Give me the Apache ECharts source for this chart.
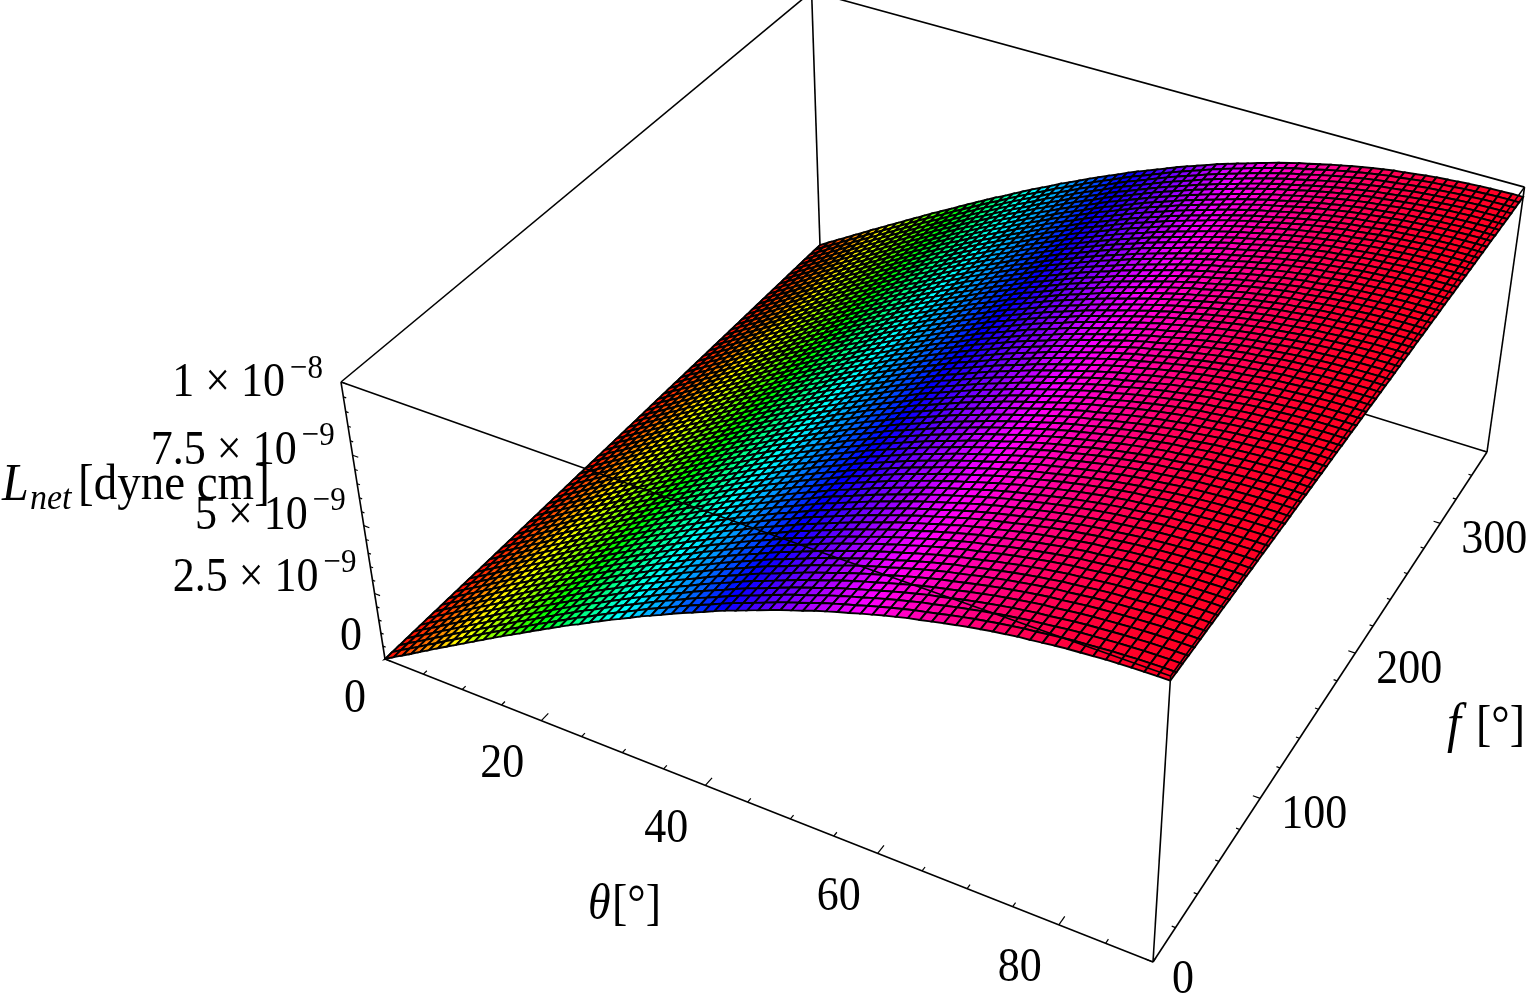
<!DOCTYPE html>
<html>
<head>
<meta charset="utf-8">
<style>html,body{margin:0;padding:0;background:#fff}#c{width:1526px;height:995px}</style>
<script src="https://cdn.jsdelivr.net/npm/echarts@6/dist/echarts.min.js"></script>
</head>
<body>
<div id="c"></div>
<script>
// ---- data ----
const thetaGrid = [0,1.25,2.5,3.75,5,6.25,7.5,8.75,10,11.25,12.5,13.75,15,16.25,17.5,18.75,20,21.25,22.5,23.75,25,26.25,27.5,28.75,30,31.25,32.5,33.75,35,36.25,37.5,38.75,40,41.25,42.5,43.75,45,46.25,47.5,48.75,50,51.25,52.5,53.75,55,56.25,57.5,58.75,60,61.25,62.5,63.75,65,66.25,67.5,68.75,70,71.25,72.5,73.75,75,76.25,77.5,78.75,80,81.25,82.5,83.75,85,86.25,87.5,88.75,90];
const phiGrid = [0,5,10,15,20,25,30,35,40,45,50,55,60,65,70,75,80,85,90,95,100,105,110,115,120,125,130,135,140,145,150,155,160,165,170,175,180,185,190,195,200,205,210,215,220,225,230,235,240,245,250,255,260,265,270,275,280,285,290,295,300,305,310,315,320,325,330,335,340,345,350,355,360];
// L_net in units of 1e-9 dyne cm along theta at phi = 0
const lnetByTheta = [0,.22,.43,.64,.86,1.07,1.29,1.50,1.71,1.92,2.13,2.34,2.55,2.76,2.96,3.16,3.37,3.57,3.77,3.97,4.17,4.35,4.55,4.74,4.93,5.11,5.29,5.48,5.65,5.82,6.00,6.17,6.33,6.49,6.66,6.82,6.96,7.11,7.26,7.41,7.55,7.68,7.81,7.95,8.07,8.19,8.30,8.42,8.53,8.64,8.74,8.84,8.92,9.01,9.10,9.18,9.26,9.33,9.40,9.46,9.52,9.56,9.61,9.66,9.70,9.73,9.76,9.79,9.81,9.83,9.84,9.85,9.85];
// slight relative fall of the surface along phi
const lnetByPhi = [1,1,1,.999,.999,.999,.999,.998,.998,.998,.997,.997,.997,.997,.996,.996,.996,.995,.995,.995,.994,.994,.994,.994,.993,.993,.993,.992,.992,.992,.992,.991,.991,.991,.990,.990,.990,.990,.989,.989,.989,.988,.988,.988,.988,.987,.987,.987,.986,.986,.986,.985,.985,.985,.985,.984,.984,.984,.983,.983,.983,.983,.982,.982,.982,.981,.981,.981,.980,.980,.980,.980,.980];
const thetaTicks = [0,5,10,15,20,25,30,35,40,45,50,55,60,65,70,75,80,85,90];
const phiTicks = [0,20,40,60,80,100,120,140,160,180,200,220,240,260,280,300,320,340,360];
const lnetTicks = [0,.5,1,1.5,2,2.5,3,3.5,4,4.5,5,5.5,6,6.5,7,7.5,8,8.5,9,9.5,10];
const thetaMajor = [0,20,40,60,80];
const phiMajor = [0,100,200,300];
const lnetMajor = [0,2.5,5,7.5,10];
const lnetTickText = {0:['0',''],2.5:['2.5 × 10','−9'],5:['5 × 10','−9'],7.5:['7.5 × 10','−9'],10:['1 × 10','−8']};

// ---- view: perspective camera for the unit box (theta/90, phi/360, L/10) ----
const camX = [646.52, 602.43, -68.55, 385];
const camY = [201.64, -363.98, -304.5, 659];
const camD = [-0.10536, 0.20418, -0.072, 1];
const thetaMax = 90, phiMax = 360, lnetMax = 10;
function project(t, p, l) {
  const u = t / thetaMax, v = p / phiMax, w = l / lnetMax;
  const d = camD[0]*u + camD[1]*v + camD[2]*w + camD[3];
  return [(camX[0]*u + camX[1]*v + camX[2]*w + camX[3]) / d,
          (camY[0]*u + camY[1]*v + camY[2]*w + camY[3]) / d];
}
function hueColor(h) {
  h = ((h % 360) + 360) % 360;
  const f = n => { const k = (n + h / 60) % 6; return Math.round(255 * (1 - Math.max(0, Math.min(k, 4 - k, 1)))); };
  return 'rgb(' + f(5) + ',' + f(3) + ',' + f(1) + ')';
}

// ---- mark tables ----
const cells = [];
for (let j = phiGrid.length - 2; j >= 0; j--) {
  for (let i = 0; i < thetaGrid.length - 1; i++) cells.push([i, j]);
}
const T = thetaMax, P = phiMax, Z = lnetMax;
const backEdges = [
  [0,0,0, 0,P,0], [0,P,0, T,P,0], [0,P,0, 0,P,Z], [0,0,Z, 0,P,Z], [0,P,Z, T,P,Z], [T,P,0, T,P,Z]
];
const frontEdges = [
  [0,0,0, T,0,0], [T,0,0, T,P,0], [0,0,0, 0,0,Z], [T,0,0, T,0,Z], [0,0,Z, T,0,Z], [T,0,Z, T,P,Z]
];
const tickSegs = [];
thetaTicks.forEach(t => { const m = thetaMajor.includes(t); tickSegs.push([t,0,0, t,m?5:2.4,0]); });
phiTicks.forEach(p => { const m = phiMajor.includes(p); tickSegs.push([T,p,0, T-(m?0.8:0.4),p,0]); });
lnetTicks.forEach(l => { const m = lnetMajor.includes(l); tickSegs.push([0,0,l, m?0.7:0.35,0,l]); });

const FONT = '"Liberation Serif","Times New Roman",serif';
function txt(api, x, y, s, size, align, italic) {
  const c = api.coord([x, y]);
  return { type: 'text', silent: true, x: c[0], y: c[1], scaleY: 1.08, style: {
    x: 0, y: 0, text: s, fill: '#000', align: align, verticalAlign: 'middle',
    font: (italic ? 'italic ' : '') + size + 'px ' + FONT } };
}
function segSeries(data, width, z) {
  return {
    type: 'custom', coordinateSystem: 'cartesian2d', data: data, silent: true, clip: false, z: z,
    animation: false, progressive: 0,
    renderItem: function (params, api) {
      const s = data[params.dataIndex];
      const a = api.coord(project(s[0], s[1], s[2])), b = api.coord(project(s[3], s[4], s[5]));
      return { type: 'line', silent: true, shape: { x1: a[0], y1: a[1], x2: b[0], y2: b[1] },
        style: { stroke: '#000', lineWidth: width, fill: null } };
    }
  };
}

const option = {
  animation: false,
  backgroundColor: '#fff',
  grid: { left: 0, right: 0, top: 0, bottom: 0 },
  xAxis: { type: 'value', min: 0, max: 1526, show: false },
  yAxis: { type: 'value', min: 0, max: 995, inverse: true, show: false },
  series: [
    segSeries(backEdges, 1.6, 1),
    {
      type: 'custom', coordinateSystem: 'cartesian2d', data: cells, silent: true, clip: false, z: 2,
      animation: false, progressive: 0,
      renderItem: function (params, api) {
        const i = api.value(0), j = api.value(1);
        const l0 = lnetByTheta[i], l1 = lnetByTheta[i + 1];
        const s0 = lnetByPhi[j], s1 = lnetByPhi[j + 1];
        const pts = [
          project(thetaGrid[i], phiGrid[j], l0 * s0),
          project(thetaGrid[i + 1], phiGrid[j], l1 * s0),
          project(thetaGrid[i + 1], phiGrid[j + 1], l1 * s1),
          project(thetaGrid[i], phiGrid[j + 1], l0 * s1)
        ].map(p => api.coord(p));
        return { type: 'polygon', silent: true, shape: { points: pts },
          style: { fill: hueColor((l0 + l1) / 2 * 35.7), stroke: '#000', lineWidth: 1.9 } };
      }
    },
    segSeries(frontEdges, 1.6, 3),
    segSeries(tickSegs, 1.2, 3),
    {
      type: 'custom', coordinateSystem: 'cartesian2d', data: [0], silent: true, clip: false, z: 4,
      animation: false, progressive: 0,
      renderItem: function (params, api) {
        const kids = [];
        thetaMajor.forEach(t => {
          const p = project(t, 0, 0), o = t === 0 ? [-30, 41] : [-39, 44];
          kids.push(txt(api, p[0] + o[0], p[1] + o[1], String(t), 44, 'center'));
        });
        phiMajor.forEach(v => {
          const p = project(T, v, 0), o = v === 0 ? [30, 19] : [54, 17];
          kids.push(txt(api, p[0] + o[0], p[1] + o[1], String(v), 44, 'center'));
        });
        lnetMajor.forEach(l => {
          const p = project(0, 0, l), t = lnetTickText[l];
          const xr = p[0] - 18, y = p[1] - 21 + 2.3 * l;
          if (t[1]) {
            kids.push(txt(api, xr, y - 15, t[1], 31, 'right'));
            kids.push(txt(api, xr - 38, y, t[0], 44, 'right'));
          } else {
            kids.push(txt(api, xr - 5, y, t[0], 44, 'right'));
          }
        });
        kids.push(txt(api, 2, 486, 'L', 48, 'left', true));
        kids.push(txt(api, 30, 499, 'net', 34, 'left', true));
        kids.push(txt(api, 78, 486, '[dyne cm]', 47, 'left'));
        kids.push(txt(api, 588, 906, 'θ', 46, 'left', true));
        kids.push(txt(api, 612, 906, '[°]', 46, 'left'));
        kids.push(txt(api, 1447, 727, 'f', 50, 'left', true));
        kids.push(txt(api, 1476, 727, '[°]', 46, 'left'));
        return { type: 'group', silent: true, children: kids };
      }
    }
  ]
};
const chart = echarts.init(document.getElementById('c'), null, { renderer: 'canvas' });
chart.setOption(option);
</script>
</body>
</html>
